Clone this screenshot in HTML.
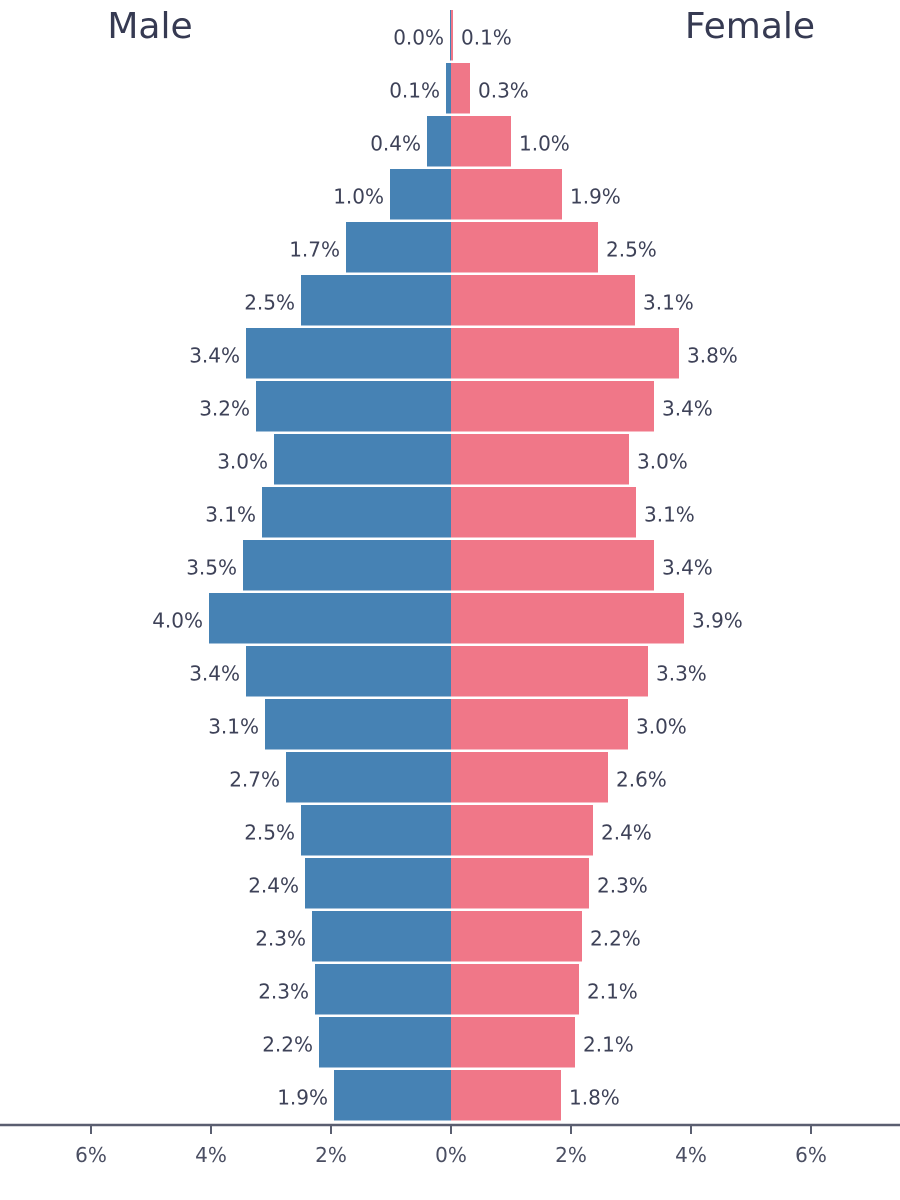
<!DOCTYPE html>
<html><head><meta charset="utf-8"><style>
html,body{margin:0;padding:0;background:#fff;}
svg{display:block;font-family:"DejaVu Sans","Liberation Sans",sans-serif;}
</style></head><body>
<svg width="900" height="1200" viewBox="0 0 900 1200" xmlns="http://www.w3.org/2000/svg">
<g fill="#4682b4">
<rect x="450" y="10" width="1" height="50.5"/>
<rect x="446" y="63" width="5" height="50.5"/>
<rect x="427" y="116" width="24" height="50.5"/>
<rect x="390" y="169" width="61" height="50.5"/>
<rect x="346" y="222" width="105" height="50.5"/>
<rect x="301" y="275" width="150" height="50.5"/>
<rect x="246" y="328" width="205" height="50.5"/>
<rect x="256" y="381" width="195" height="50.5"/>
<rect x="274" y="434" width="177" height="50.5"/>
<rect x="262" y="487" width="189" height="50.5"/>
<rect x="243" y="540" width="208" height="50.5"/>
<rect x="209" y="593" width="242" height="50.5"/>
<rect x="246" y="646" width="205" height="50.5"/>
<rect x="265" y="699" width="186" height="50.5"/>
<rect x="286" y="752" width="165" height="50.5"/>
<rect x="301" y="805" width="150" height="50.5"/>
<rect x="305" y="858" width="146" height="50.5"/>
<rect x="312" y="911" width="139" height="50.5"/>
<rect x="315" y="964" width="136" height="50.5"/>
<rect x="319" y="1017" width="132" height="50.5"/>
<rect x="334" y="1070" width="117" height="50.5"/>
</g>
<g fill="#f07788">
<rect x="451" y="10" width="2" height="50.5"/>
<rect x="451" y="63" width="19" height="50.5"/>
<rect x="451" y="116" width="60" height="50.5"/>
<rect x="451" y="169" width="111" height="50.5"/>
<rect x="451" y="222" width="147" height="50.5"/>
<rect x="451" y="275" width="184" height="50.5"/>
<rect x="451" y="328" width="228" height="50.5"/>
<rect x="451" y="381" width="203" height="50.5"/>
<rect x="451" y="434" width="178" height="50.5"/>
<rect x="451" y="487" width="185" height="50.5"/>
<rect x="451" y="540" width="203" height="50.5"/>
<rect x="451" y="593" width="233" height="50.5"/>
<rect x="451" y="646" width="197" height="50.5"/>
<rect x="451" y="699" width="177" height="50.5"/>
<rect x="451" y="752" width="157" height="50.5"/>
<rect x="451" y="805" width="142" height="50.5"/>
<rect x="451" y="858" width="138" height="50.5"/>
<rect x="451" y="911" width="131" height="50.5"/>
<rect x="451" y="964" width="128" height="50.5"/>
<rect x="451" y="1017" width="124" height="50.5"/>
<rect x="451" y="1070" width="110" height="50.5"/>
</g>
<g font-size="20" fill="#3e4258" text-anchor="end" transform="translate(0,2)">
<text x="444" y="42.3">0.0%</text>
<text x="440" y="95.3">0.1%</text>
<text x="421" y="148.3">0.4%</text>
<text x="384" y="201.3">1.0%</text>
<text x="340" y="254.3">1.7%</text>
<text x="295" y="307.3">2.5%</text>
<text x="240" y="360.3">3.4%</text>
<text x="250" y="413.3">3.2%</text>
<text x="268" y="466.3">3.0%</text>
<text x="256" y="519.3">3.1%</text>
<text x="237" y="572.3">3.5%</text>
<text x="203" y="625.3">4.0%</text>
<text x="240" y="678.3">3.4%</text>
<text x="259" y="731.3">3.1%</text>
<text x="280" y="784.3">2.7%</text>
<text x="295" y="837.3">2.5%</text>
<text x="299" y="890.3">2.4%</text>
<text x="306" y="943.3">2.3%</text>
<text x="309" y="996.3">2.3%</text>
<text x="313" y="1049.3">2.2%</text>
<text x="328" y="1102.3">1.9%</text>
</g>
<g font-size="20" fill="#3e4258" transform="translate(0,2)">
<text x="461" y="42.3">0.1%</text>
<text x="478" y="95.3">0.3%</text>
<text x="519" y="148.3">1.0%</text>
<text x="570" y="201.3">1.9%</text>
<text x="606" y="254.3">2.5%</text>
<text x="643" y="307.3">3.1%</text>
<text x="687" y="360.3">3.8%</text>
<text x="662" y="413.3">3.4%</text>
<text x="637" y="466.3">3.0%</text>
<text x="644" y="519.3">3.1%</text>
<text x="662" y="572.3">3.4%</text>
<text x="692" y="625.3">3.9%</text>
<text x="656" y="678.3">3.3%</text>
<text x="636" y="731.3">3.0%</text>
<text x="616" y="784.3">2.6%</text>
<text x="601" y="837.3">2.4%</text>
<text x="597" y="890.3">2.3%</text>
<text x="590" y="943.3">2.2%</text>
<text x="587" y="996.3">2.1%</text>
<text x="583" y="1049.3">2.1%</text>
<text x="569" y="1102.3">1.8%</text>
</g>
<text x="150" y="38" font-size="36" fill="#363a52" text-anchor="middle">Male</text>
<text x="750" y="38" font-size="36" fill="#363a52" text-anchor="middle">Female</text>
<line x1="0" y1="1125" x2="900" y2="1125" stroke="#5a5e70" stroke-width="2.5"/>
<g stroke="#5a5e70" stroke-width="2">
<line x1="91" y1="1125" x2="91" y2="1134"/><line x1="211" y1="1125" x2="211" y2="1134"/><line x1="331" y1="1125" x2="331" y2="1134"/><line x1="451" y1="1125" x2="451" y2="1134"/><line x1="571" y1="1125" x2="571" y2="1134"/><line x1="691" y1="1125" x2="691" y2="1134"/><line x1="811" y1="1125" x2="811" y2="1134"/>
</g>
<g font-size="20" fill="#4a4e62" text-anchor="middle">
<text x="91" y="1162">6%</text><text x="211" y="1162">4%</text><text x="331" y="1162">2%</text><text x="451" y="1162">0%</text><text x="571" y="1162">2%</text><text x="691" y="1162">4%</text><text x="811" y="1162">6%</text>
</g>
</svg>
</body></html>
